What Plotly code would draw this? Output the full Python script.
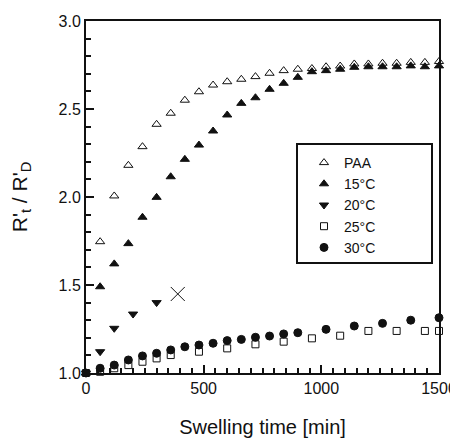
import plotly.graph_objects as go

# ---- data ----
t_paa = [0, 60, 120, 180, 240, 300, 360, 420, 480, 540, 600, 660, 720, 780, 840, 900,
         960, 1020, 1080, 1140, 1200, 1260, 1320, 1380, 1440, 1500]
v_paa = [1.0, 1.746, 2.006, 2.18, 2.286, 2.413, 2.476, 2.55, 2.598, 2.636, 2.655, 2.669,
         2.684, 2.703, 2.718, 2.726, 2.73, 2.74, 2.744, 2.756, 2.756, 2.76, 2.76, 2.765,
         2.765, 2.77]

t_15 = [0, 60, 120, 180, 240, 300, 360, 420, 480, 540, 600, 660, 720, 780, 840, 900,
        960, 1020, 1080, 1140, 1200, 1260, 1320, 1380, 1440, 1500]
v_15 = [1.0, 1.49, 1.62, 1.735, 1.885, 1.998, 2.115, 2.214, 2.295, 2.375, 2.466, 2.532,
        2.564, 2.612, 2.646, 2.68, 2.712, 2.718, 2.726, 2.737, 2.74, 2.74, 2.74, 2.745,
        2.74, 2.745]

t_20 = [0, 60, 120, 200, 300]
v_20 = [1.0, 1.121, 1.254, 1.335, 1.40]

t_x = [390]
v_x = [1.449]

t_25 = [0, 60, 120, 180, 240, 300, 360, 480, 600, 720, 840, 960, 1080, 1200, 1320, 1440, 1500]
v_25 = [1.0, 1.007, 1.027, 1.045, 1.064, 1.083, 1.102, 1.121, 1.14, 1.163, 1.178, 1.197,
        1.212, 1.239, 1.239, 1.239, 1.239]

t_30 = [0, 60, 120, 180, 240, 300, 360, 420, 480, 540, 600, 660, 720, 780, 840, 900,
        1020, 1140, 1260, 1380, 1500]
v_30 = [1.0, 1.027, 1.045, 1.074, 1.097, 1.112, 1.131, 1.149, 1.159, 1.169, 1.184, 1.191,
        1.203, 1.21, 1.222, 1.229, 1.248, 1.267, 1.282, 1.30, 1.314]

series_names = ["PAA", "15°C", "20°C", "25°C", "30°C"]

FONT = "Liberation Sans, Arial, sans-serif"
BLACK = "#111111"

fig = go.Figure()

def add(x, y, name, symbol, size, show=True):
    fig.add_trace(go.Scatter(
        x=x, y=y, mode="markers", name=name, showlegend=show,
        marker=dict(symbol=symbol, size=size, color=BLACK,
                    line=dict(color=BLACK, width=1)),
        cliponaxis=False,
    ))

add(t_paa, v_paa, series_names[0], "triangle-up-open", 8)
add(t_15, v_15, series_names[1], "triangle-up", 8)
add(t_20, v_20, series_names[2], "triangle-down", 8)
add(t_25, v_25, series_names[3], "square-open", 7)
add(t_30, v_30, series_names[4], "circle", 8)
add(t_x, v_x, "x", "x-thin-open", 14, show=False)

# page body has an 8px margin, so the figure is 8px smaller than the window
PW, PH = 353, 352  # plot area size in px

# legend box
fig.add_shape(type="rect", xref="paper", yref="paper",
              x0=211 / PW, x1=346 / PW,
              y0=110 / PH, y1=229 / PH,
              line=dict(color=BLACK, width=2), fillcolor="rgba(0,0,0,0)", layer="above")

fig.update_layout(
    width=450, height=431,
    margin=dict(l=78, r=19, t=13, b=66),
    paper_bgcolor="white", plot_bgcolor="white",
    font=dict(family=FONT, size=16, color=BLACK),
    showlegend=True,
    legend=dict(x=218 / PW, y=226 / PH, xanchor="left", yanchor="top",
                bgcolor="rgba(0,0,0,0)", borderwidth=0,
                font=dict(family=FONT, size=14, color=BLACK),
                tracegroupgap=0),
    xaxis=dict(range=[0, 1500], tickvals=[0, 500, 1000, 1500], automargin=False,
               ticks="inside", ticklen=8, tickwidth=2, tickcolor=BLACK,
               minor=dict(dtick=50, ticks="inside", ticklen=5, tickwidth=2, tickcolor=BLACK),
               showline=True, linewidth=2, linecolor=BLACK, mirror=True,
               showgrid=False, zeroline=False,
               title=dict(text="Swelling time [min]", font=dict(size=20), standoff=24),
               tickfont=dict(size=16)),
    yaxis=dict(range=[1.0, 3.0], tickvals=[1.0, 1.5, 2.0, 2.5, 3.0], tickformat=".1f",
               automargin=False,
               ticks="inside", ticklen=8, tickwidth=2, tickcolor=BLACK,
               minor=dict(dtick=0.1, ticks="inside", ticklen=5, tickwidth=2, tickcolor=BLACK),
               showline=True, linewidth=2, linecolor=BLACK, mirror=True,
               showgrid=False, zeroline=False,
               title=dict(text="R'<sub>t</sub> / R'<sub>D</sub>",
                          font=dict(size=21), standoff=26),
               tickfont=dict(size=16)),
)

fig.write_html("out.html")
